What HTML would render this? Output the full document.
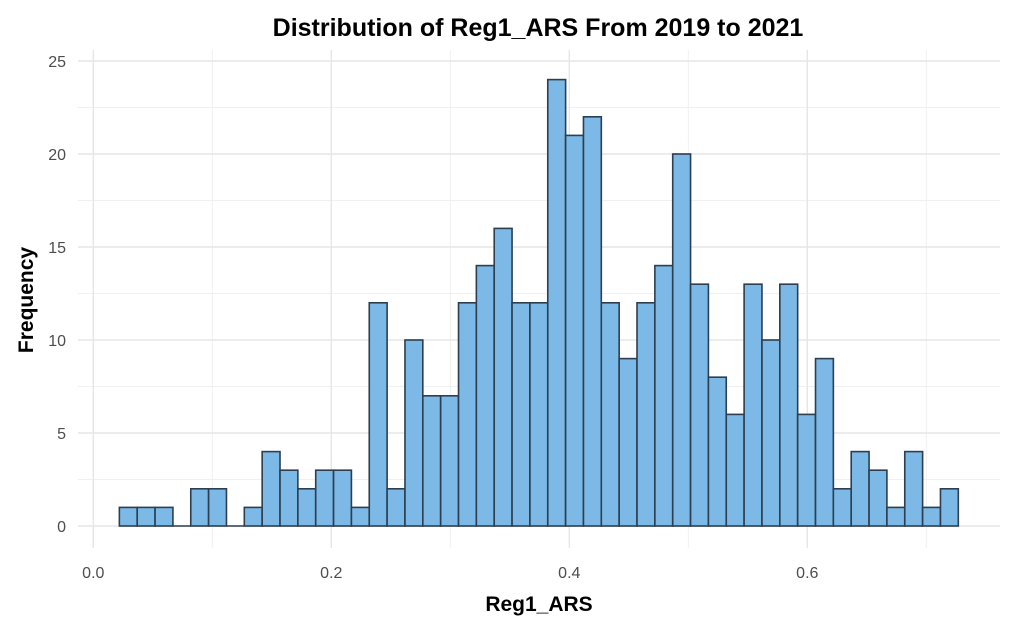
<!DOCTYPE html>
<html><head><meta charset="utf-8"><style>
body{margin:0;background:#fff;font-family:"Liberation Sans",sans-serif}
</style></head><body>
<svg width="1014" height="626" id="c" xmlns="http://www.w3.org/2000/svg"></svg>
<script>
const counts=[1,1,1,0,2,2,0,1,4,3,2,3,3,1,12,2,10,7,7,12,14,16,12,12,24,21,22,12,9,12,14,20,13,8,6,13,10,13,6,9,2,4,3,1,4,1,2];
const binStart=0.0219;
const binWidth=0.015;
const xTicks=[0,0.2,0.4,0.6];
const xTickLabels=["0.0","0.2","0.4","0.6"];
const yTicks=[0,5,10,15,20,25];
const X=v=>93.3+v*1190;
const Y=v=>526-v*18.6;
const s=document.getElementById('c');
const NS="http://www.w3.org/2000/svg";
function el(t,a,txt){const e=document.createElementNS(NS,t);for(const k in a)e.setAttribute(k,a[k]);if(txt!=null)e.textContent=txt;s.appendChild(e);return e;}
for(let v=2.5;v<27;v+=5){const g=el('line',{x1:78,x2:1000,y1:Y(v),y2:Y(v),stroke:'#f0f0f0','stroke-width':1});

}
for(let v=0.1;v<0.8;v+=0.2){const g=el('line',{x1:X(v),x2:X(v),y1:50,y2:548,stroke:'#f0f0f0','stroke-width':1});

}
yTicks.forEach(v=>{const g=el('line',{x1:78,x2:1000,y1:Y(v),y2:Y(v),stroke:'#e6e6e6','stroke-width':1.4});


const t=el('text',{x:66,y:Y(v)+6,'text-anchor':'end','font-size':16,fill:'#4d4d4d'},String(v));

});
xTicks.forEach((v,i)=>{const g=el('line',{x1:X(v),x2:X(v),y1:50,y2:548,stroke:'#e6e6e6','stroke-width':1.4});


const t=el('text',{x:X(v),y:578,'text-anchor':'middle','font-size':16,fill:'#4d4d4d'},xTickLabels[i]);

});
counts.forEach((c,i)=>{const x0=X(binStart+i*binWidth),x1=X(binStart+(i+1)*binWidth);
if(c===0){const l=el('line',{x1:x0,x2:x1,y1:Y(0),y2:Y(0),stroke:'#2c3e50','stroke-width':1.6});

return;}
const r=el('rect',{x:x0,y:Y(c),width:x1-x0,height:Y(0)-Y(c),fill:'#7cb9e6',stroke:'#2c3e50','stroke-width':1.6});

});
const ti=el('text',{x:538,y:36,'text-anchor':'middle','font-size':25,'font-weight':'bold',fill:'#000'},'Distribution of Reg1_ARS From 2019 to 2021');


const xt=el('text',{x:539,y:611,'text-anchor':'middle','font-size':21,'font-weight':'bold',fill:'#000'},'Reg1_ARS');


const yt=el('text',{x:0,y:0,'text-anchor':'middle','font-size':21,'font-weight':'bold',fill:'#000',transform:'translate(33,300) rotate(-90)'},'Frequency');


</script>
</body></html>
